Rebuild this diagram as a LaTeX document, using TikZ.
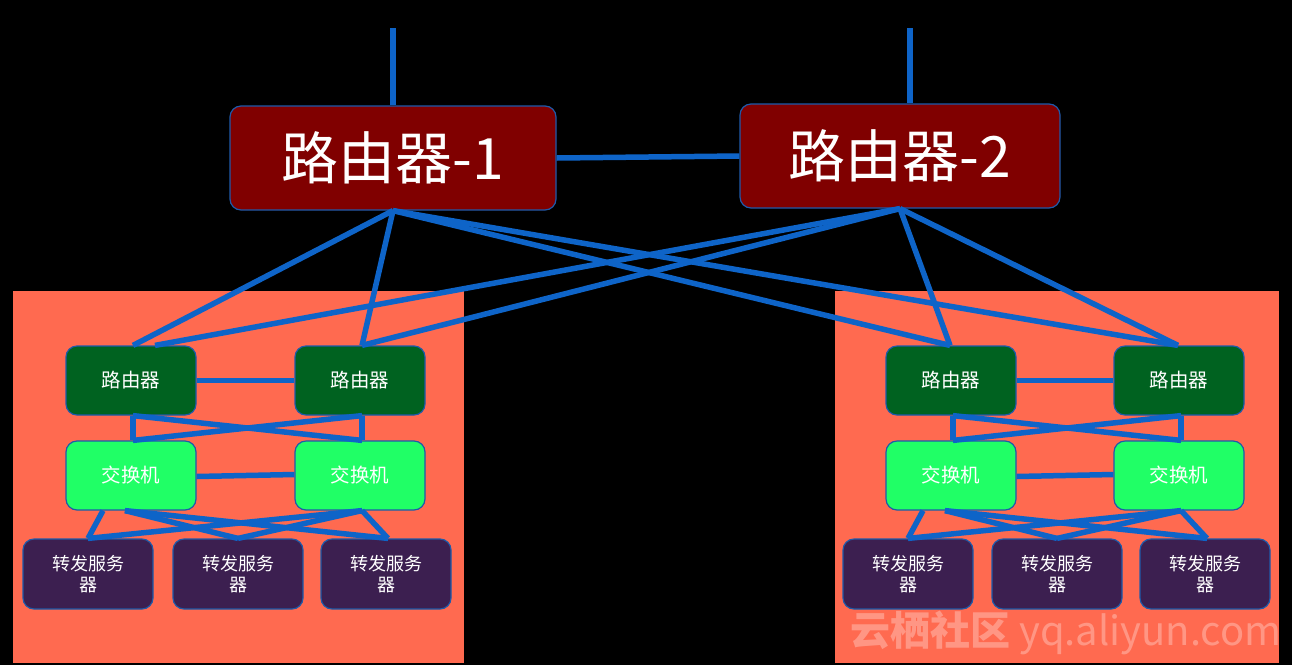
\documentclass[tikz,border=0pt]{standalone}
\usepackage{fontspec}
\setmainfont{Noto Sans CJK SC}
\usetikzlibrary{calc}
\definecolor{bgpanel}{RGB}{255,106,80}
\definecolor{maroonbox}{RGB}{128,0,0}
\definecolor{dkgreen}{RGB}{0,98,32}
\definecolor{ltgreen}{RGB}{32,255,102}
\definecolor{purplebox}{RGB}{60,31,80}
\definecolor{linkblue}{RGB}{14,100,200}
\definecolor{edgeblue}{RGB}{30,90,170}
\tikzset{
  box/.style={draw=edgeblue, line width=1.2pt, rounded corners=11pt, text=white, align=center, inner sep=0pt},
  bigrouter/.style={box, fill=maroonbox, minimum width=326pt, minimum height=104pt, font=\fontsize{57}{62}\selectfont},
  smallrouter/.style={box, fill=dkgreen, minimum width=130pt, minimum height=69pt, font=\fontsize{19.5}{23}\selectfont},
  switchbox/.style={box, fill=ltgreen, minimum width=130pt, minimum height=69pt, font=\fontsize{19.5}{23}\selectfont},
  serverbox/.style={box, fill=purplebox, minimum width=130pt, minimum height=70pt, font=\fontsize{18}{21.5}\selectfont},
  link/.style={draw=linkblue, line width=5.5pt, line join=round},
  panel/.style={fill=bgpanel}
}
\begin{document}
\begin{tikzpicture}[x=1pt,y=-1pt]
\useasboundingbox (0,0) rectangle (1292,665);
\fill[black] (0,0) rectangle (1292,665);
% panels
\fill[panel] (13,291) rectangle (464,663);
\fill[panel] (835,291) rectangle (1279,663);
% watermark
\node[text=white, opacity=0.3, font=\fontsize{40}{42}\selectfont, anchor=center, inner sep=0pt] (wm) at (1066,633) {{\bfseries 云栖社区} yq.aliyun.com};
% big routers
\node[bigrouter] (R1) at (393,158) {路由器-1};
\node[bigrouter, minimum width=320pt] (R2) at (900,156) {路由器-2};
\coordinate (t1) at (393,28);
\coordinate (t2) at (910,28);
% clusters
\foreach \p/\xa/\xb/\va/\vb/\vc in {l/131/360/88/238/386, r/951/1179/908/1057/1205}{
  \node[smallrouter] (\p r1) at (\xa,380.5) {路由器};
  \node[smallrouter] (\p r2) at (\xb,380.5) {路由器};
  \node[switchbox] (\p s1) at (\xa,475.5) {交换机};
  \node[switchbox] (\p s2) at (\xb,475.5) {交换机};
  \node[serverbox] (\p v1) at (\va,574) {转发服务\\器};
  \node[serverbox] (\p v2) at (\vb,574) {转发服务\\器};
  \node[serverbox] (\p v3) at (\vc,574) {转发服务\\器};
}
% links
\draw[link] (t1) -- (R1.north);
\draw[link] (t2) -- (t2 |- R2.north);
\draw[link] (R1.east) -- (R2.west);
\foreach \t/\dx in {lr1/2, lr2/2, rr1/-1, rr2/-1}{
  \draw[link] (R1.south) -- ([xshift=\dx pt]\t.north);
}
\foreach \t/\dx in {lr1/24, lr2/2, rr1/-1, rr2/-1}{
  \draw[link] (R2.south) -- ([xshift=\dx pt]\t.north);
}
\foreach \p in {l,r}{
  \draw[link] (\p r1.east) -- (\p r2.west);
  \draw[link] ([yshift=-1pt]\p s1.east) -- ([yshift=1pt]\p s2.west);
  \draw[link] ([xshift=2pt]\p r1.south) -- ([xshift=2pt]\p s1.north);
  \draw[link] ([xshift=2pt]\p r1.south) -- ([xshift=2pt]\p s2.north);
  \draw[link] ([xshift=2pt]\p r2.south) -- ([xshift=2pt]\p s1.north);
  \draw[link] ([xshift=2pt]\p r2.south) -- ([xshift=2pt]\p s2.north);
  \draw[link] ([xshift=-28pt]\p s1.south) -- (\p v1.north);
  \draw[link] ([xshift=-6pt]\p s1.south) -- (\p v2.north);
  \draw[link] ([xshift=-6pt]\p s1.south) -- ([xshift=2pt]\p v3.north);
  \draw[link] ([xshift=2pt]\p s2.south) -- (\p v1.north);
  \draw[link] ([xshift=2pt]\p s2.south) -- (\p v2.north);
  \draw[link] ([xshift=2pt]\p s2.south) -- ([xshift=2pt]\p v3.north);
}
\end{tikzpicture}
\end{document}
